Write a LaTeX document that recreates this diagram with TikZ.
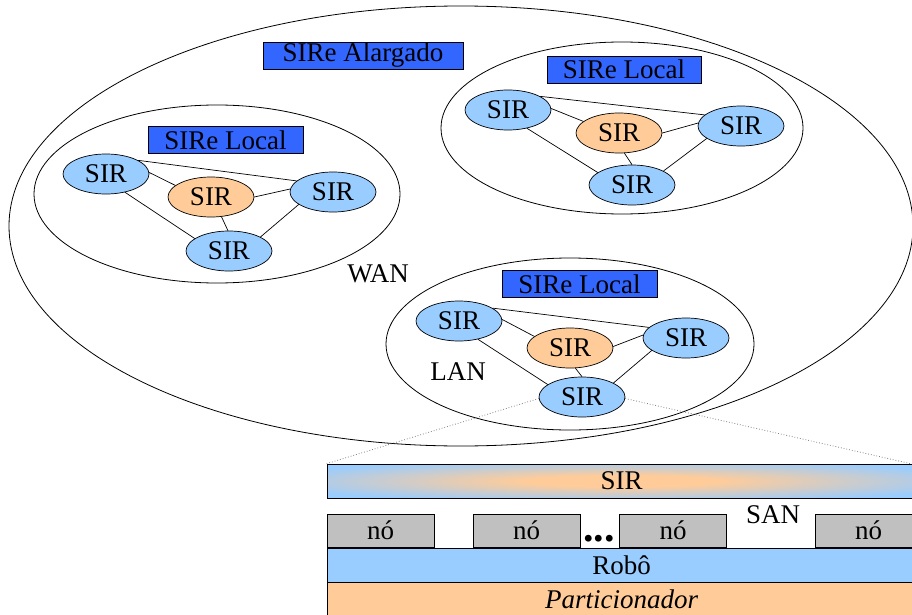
\documentclass[tikz,border=0pt]{standalone}
\usepackage{fontspec}
\setmainfont{Liberation Serif}
\usetikzlibrary{shapes.geometric}

\definecolor{sirblue}{HTML}{99CCFF}
\definecolor{sirorange}{HTML}{FFCC99}
\definecolor{sirebox}{HTML}{3366FF}
\definecolor{nodegray}{HTML}{C0C0C0}

% horizontal band: orange core fading to blue at the rim
\pgfdeclareradialshading{sirband}{\pgfpoint{0bp}{0bp}}{%
  color(0bp)=(sirorange); color(8bp)=(sirorange);
  color(31bp)=(sirblue); color(72bp)=(sirblue)}

\begin{document}
\begin{tikzpicture}[x=1pt, y=-1pt,
  font=\fontsize{27}{31}\selectfont,
  region/.style={draw, line width=0.8pt},
  sir/.style={ellipse, draw, line width=0.7pt, fill=sirblue,
    minimum width=86pt, minimum height=40pt, inner sep=0pt},
  sircore/.style={sir, fill=sirorange},
  sirelabel/.style={rectangle, draw, line width=0.7pt, fill=sirebox,
    minimum height=27pt, inner sep=0pt},
  link/.style={draw, line width=0.7pt},
  zoomline/.style={draw=gray, dotted, line width=0.8pt},
  layer/.style={rectangle, draw, line width=0.7pt, inner sep=0pt,
    minimum width=589pt},
  nobox/.style={rectangle, draw, line width=0.7pt, fill=nodegray,
    inner sep=0pt, minimum width=107pt, minimum height=33pt}]

\useasboundingbox (0,0) rectangle (912,615);

% network regions
\draw[region] (461,226) ellipse [x radius=452, y radius=220];
\draw[region] (217,194) ellipse [x radius=183, y radius=89];
\draw[region] (622,128) ellipse [x radius=181, y radius=86];
\draw[region] (570,344) ellipse [x radius=184, y radius=86];

\node[sirelabel, minimum width=200pt] (alarg) at (363,55.5) {SIRe Alargado};
\node (wan) at (378,274) {WAN};
\node (lan) at (458,371.5) {LAN};

% left local SIRe
\node[sirelabel, minimum width=155pt] (locA) at (225.5,140) {SIRe Local};
\node[sir]     (a1) at (106,174) {SIR};
\node[sircore] (a0) at (211,197) {SIR};
\node[sir]     (a2) at (333,192) {SIR};
\node[sir]     (a3) at (229,251) {SIR};
\draw[link] (a1.23) -- (a2.163);
\draw[link] (a1.2) -- (a0.162);
\draw[link] (a1.-44) -- (a3.160);
\draw[link] (a0.-62) -- (a3.93);
\draw[link] (a0.0) -- (a2.176);
\draw[link] (a2.-160) -- (a3.24);

% upper right local SIRe
\node[sirelabel, minimum width=154pt] (locB) at (624,69.5) {SIRe Local};
\node[sir]     (b1) at (508,110) {SIR};
\node[sircore] (b0) at (619,133) {SIR};
\node[sir]     (b2) at (741,126) {SIR};
\node[sir]     (b3) at (632,185) {SIR};
\draw[link] (b1.23) -- (b2.163);
\draw[link] (b1.2) -- (b0.162);
\draw[link] (b1.-44) -- (b3.160);
\draw[link] (b0.-75) -- (b3.90);
\draw[link] (b0.0) -- (b2.176);
\draw[link] (b2.-160) -- (b3.24);

% lower local SIRe (LAN)
\node[sirelabel, minimum width=155pt] (locC) at (579.5,284) {SIRe Local};
\node[sir]     (c1) at (459,321) {SIR};
\node[sircore] (c0) at (570,348) {SIR};
\node[sir]     (c2) at (686,338) {SIR};
\node[sir]     (c3) at (582,397) {SIR};
\draw[link] (c1.21) -- (c2.164);
\draw[link] (c1.2) -- (c0.162);
\draw[link] (c1.-44) -- (c3.160);
\draw[link] (c0.-75) -- (c3.90);
\draw[link] (c0.2) -- (c2.176);
\draw[link] (c2.-160) -- (c3.24);

% SIR internals
\node[layer, shading=sirband, minimum height=34pt] (sirbar) at (621.5,481) {SIR};
\coordinate (barNE) at (912,464);
\draw[zoomline] (c3.182) -- (sirbar.north west);
\draw[zoomline] (c3.-2) -- (barNE);

\node[nobox] (n1) at (380.5,530.5) {nó};
\node[nobox] (n2) at (526.5,530.5) {nó};
\node[nobox] (n3) at (673,530.5) {nó};
\node[nobox] (n4) at (868.5,530.5) {nó};
\node[anchor=base, inner sep=0pt] (dots) at (599,541)
  {\fontsize{42}{42}\selectfont\bfseries...};
\node (san) at (773,515) {SAN};

\node[layer, fill=sirblue, minimum height=34pt] (robo) at (621.5,565) {Robô};
\node[layer, fill=sirorange, minimum height=40pt,
  text height=18pt, text depth=6pt] (part) at (621.5,602) {\itshape Particionador};
\end{tikzpicture}
\end{document}
